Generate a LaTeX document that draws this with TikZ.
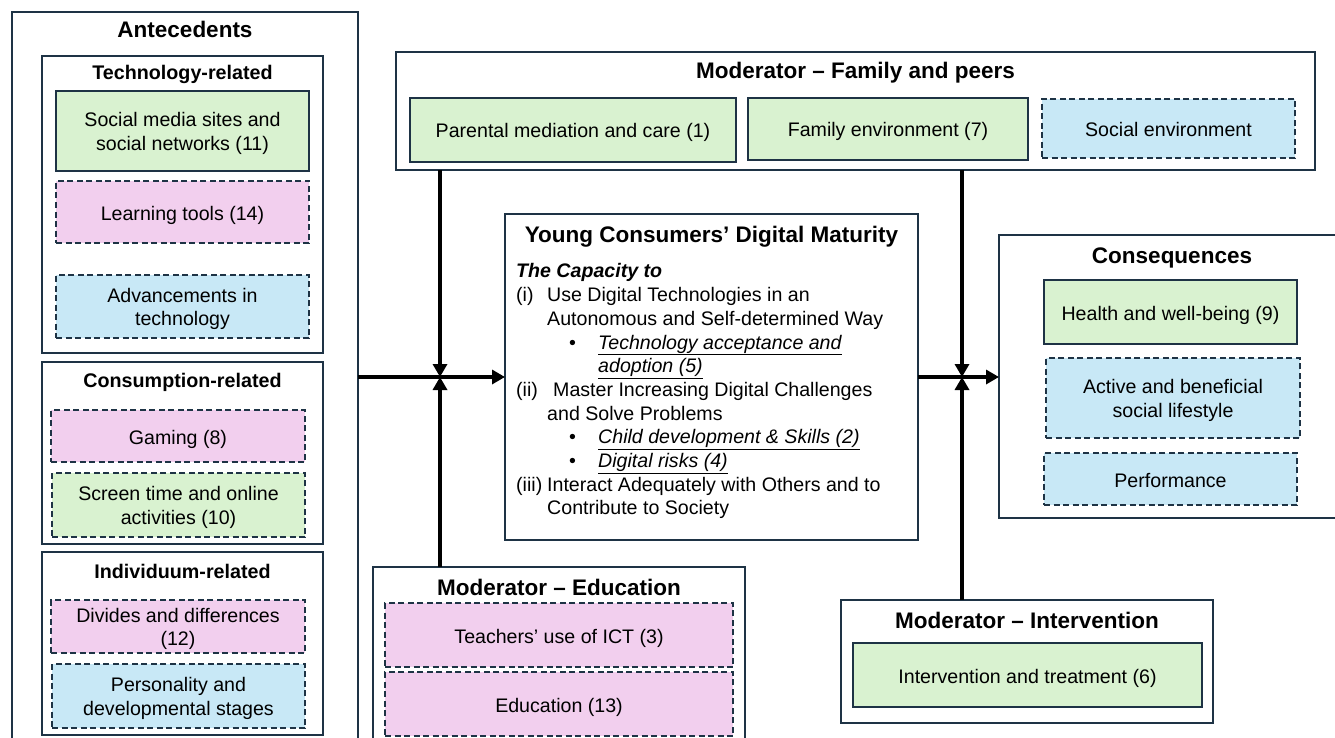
\documentclass[tikz,border=0pt]{standalone}
\usepackage{fontspec}
\setmainfont{Liberation Sans}
\usetikzlibrary{arrows.meta}
\definecolor{edge}{HTML}{1E3345}
\definecolor{fgreen}{HTML}{D9F2D0}
\definecolor{fpink}{HTML}{F2CFEE}
\definecolor{fblue}{HTML}{C8E8F6}
\tikzset{
  panel/.style={draw=edge, line width=1.6pt, fill=white, inner sep=0pt, outer sep=0pt},
  item/.style={draw=edge, line width=1.6pt, inner sep=0pt, outer sep=0pt, align=center,
    font=\fontsize{19.6}{23.5}\selectfont, text height=16pt, text depth=0pt},
  twolines/.style={text height=38.5pt, text depth=0pt},
  greenbox/.style={item, fill=fgreen},
  pinkbox/.style={item, fill=fpink, dash pattern=on 6pt off 3.5pt},
  bluebox/.style={item, fill=fblue, dash pattern=on 6pt off 3.5pt},
  headline/.style={anchor=base, inner sep=0pt, font=\fontsize{22.5}{27}\selectfont\bfseries},
  subheadline/.style={anchor=base, inner sep=0pt, font=\fontsize{19.7}{23}\selectfont\bfseries},
  flow/.style={line width=3.6pt, -{Triangle[length=13pt,width=14pt]}}
}
\newcommand{\uit}[1]{\underline{\textit{#1}}}
\begin{document}
\begin{tikzpicture}[x=1pt, y=-1pt]
\useasboundingbox (0,0) rectangle (1335,738);
\clip (0,0) rectangle (1335,738);

% ---------------- Antecedents ----------------
\node[panel, minimum width=346pt, minimum height=728pt] (ante) at (185,376) {};
\node[headline] (antet) at (185,38) {Antecedents};

\node[panel, minimum width=281pt, minimum height=297pt] (tech) at (182.5,204.5) {};
\node[subheadline] (techt) at (182.5,80) {Technology-related};
\node[greenbox, twolines, minimum width=253pt, minimum height=80pt] (smedia) at (182.5,131) {Social media sites and\\social networks (11)};
\node[pinkbox, minimum width=253pt, minimum height=62pt] (learn) at (182.5,212) {Learning tools (14)};
\node[bluebox, twolines, minimum width=253pt, minimum height=63pt] (advance) at (182.5,306.5) {Advancements in\\technology};

\node[panel, minimum width=281pt, minimum height=182pt] (cons) at (182.5,453) {};
\node[subheadline] (const) at (182.5,387) {Consumption-related};
\node[pinkbox, minimum width=254pt, minimum height=52pt] (gaming) at (178,436) {Gaming (8)};
\node[greenbox, twolines, dash pattern=on 6pt off 3.5pt, minimum width=253pt, minimum height=64pt] (screen) at (178.5,505) {Screen time and online\\activities (10)};

\node[panel, minimum width=281pt, minimum height=183pt] (indiv) at (182.5,643.5) {};
\node[subheadline] (indivt) at (182.5,578) {Individuum-related};
\node[pinkbox, twolines, minimum width=254pt, minimum height=53pt] (divides) at (178,626.5) {Divides and differences\\(12)};
\node[bluebox, twolines, minimum width=253pt, minimum height=64pt] (person) at (178.5,696) {Personality and\\developmental stages};

% ---------------- Moderator: family and peers ----------------
\node[panel, minimum width=919pt, minimum height=118pt] (modfam) at (855.5,111) {};
\node[headline] (modfamt) at (855.5,79) {Moderator -- Family and peers};
\node[greenbox, minimum width=326pt, minimum height=64pt] (parent) at (573,130) {Parental mediation and care (1)};
\node[greenbox, minimum width=280pt, minimum height=62pt] (family) at (888,129) {Family environment (7)};
\node[bluebox, minimum width=253pt, minimum height=59pt] (social) at (1168.5,128.5) {Social environment};

% ---------------- Digital maturity ----------------
\node[panel, minimum width=413pt, minimum height=326pt] (ydm) at (711.5,377) {};
\node[headline] (ydmt) at (711.5,242) {Young Consumers’ Digital Maturity};
\node[anchor=north west, inner sep=0pt, align=left, font=\fontsize{19.6}{23.7}\selectfont] (ydmbody) at (516,263.5) {%
\textbf{\textit{The Capacity to}}\\
\makebox[31pt][l]{(i)}Use Digital Technologies in an\\
\hspace*{31pt}Autonomous and Self-determined Way\\
\hspace*{53pt}\makebox[29pt][l]{•}\uit{Technology acceptance and}\\
\hspace*{82pt}\uit{adoption (5)}\\
\makebox[37pt][l]{(ii)}Master Increasing Digital Challenges\\
\hspace*{31pt}and Solve Problems\\
\hspace*{53pt}\makebox[29pt][l]{•}\uit{Child development \& Skills (2)}\\
\hspace*{53pt}\makebox[29pt][l]{•}\uit{Digital risks (4)}\\
\makebox[31pt][l]{(iii)}Interact Adequately with Others and to\\
\hspace*{31pt}Contribute to Society};

% ---------------- Consequences ----------------
\node[panel, minimum width=351pt, minimum height=283pt] (conseq) at (1174.5,376.5) {};
\node[headline] (conseqt) at (1172,263) {Consequences};
\node[greenbox, minimum width=253pt, minimum height=64pt] (health) at (1170.5,312) {Health and well-being (9)};
\node[bluebox, twolines, minimum width=254pt, minimum height=80pt] (active) at (1173,398) {Active and beneficial\\social lifestyle};
\node[bluebox, minimum width=253pt, minimum height=52pt] (perf) at (1170.5,479) {Performance};

% ---------------- Moderator: education ----------------
\node[panel, minimum width=372pt, minimum height=193pt] (modedu) at (559,663.5) {};
\node[headline] (modedut) at (559,595) {Moderator -- Education};
\node[pinkbox, minimum width=348pt, minimum height=64pt] (teach) at (559,635) {Teachers’ use of ICT (3)};
\node[pinkbox, minimum width=348pt, minimum height=64pt] (educ) at (559,704) {Education (13)};

% ---------------- Moderator: intervention ----------------
\node[panel, minimum width=372pt, minimum height=123pt] (modint) at (1027,661.5) {};
\node[headline] (modintt) at (1027,628) {Moderator -- Intervention};
\node[greenbox, minimum width=349pt, minimum height=64pt] (treat) at (1027.5,675) {Intervention and treatment (6)};

% ---------------- Connectors ----------------
\coordinate (jleft) at (440,377);
\coordinate (jright) at (962,377);
\draw[flow] (ante.east |- jleft) -- (ydm.west |- jleft);
\draw[flow] (ydm.east |- jright) -- (conseq.west |- jright);
\draw[flow] (modfam.south -| jleft) -- (jleft);
\draw[flow] (modedu.north -| jleft) -- (jleft);
\draw[flow] (modfam.south -| jright) -- (jright);
\draw[flow] (modint.north -| jright) -- (jright);
\end{tikzpicture}
\end{document}
